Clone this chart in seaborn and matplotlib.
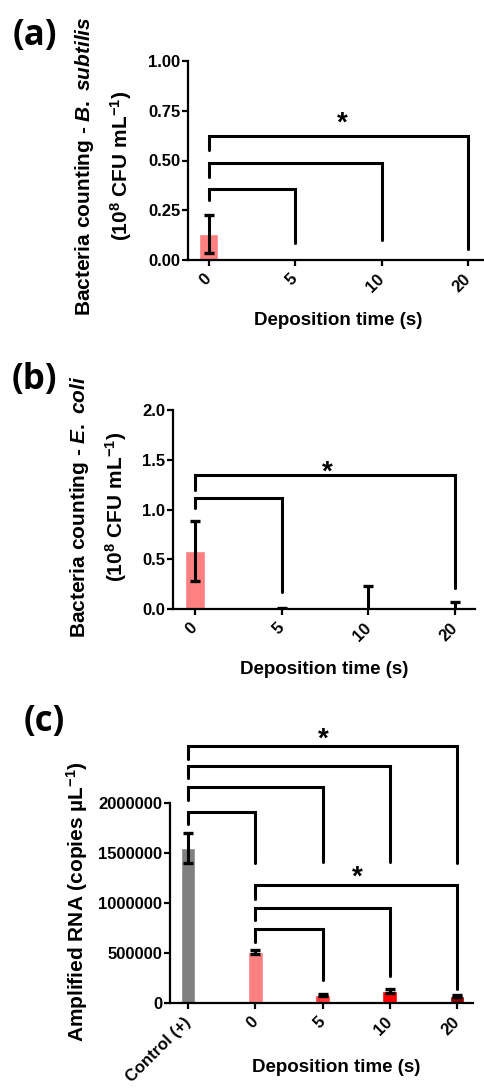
import numpy as np
import seaborn as sns
import matplotlib.pyplot as plt

# ---- data ----
times = ["0", "5", "10", "20"]

bsub_mean = [0.13, 0.0, 0.0, 0.0]
bsub_sd = [0.097, 0.0, 0.0, 0.0]

ecoli_mean = [0.58, 0.0, 0.0, 0.0]
ecoli_sd = [0.30, 0.01, 0.23, 0.07]

rna_groups = ["Control (+)", "0", "5", "10", "20"]
rna_mean = [1550000, 510000, 78000, 118000, 75000]
rna_sd = [150000, 18000, 12000, 20000, 10000]

# brackets: (from, to, height, left end, right end)
bsub_brackets = [(0, 1, 0.357, 0.30, 0.085),
                 (0, 2, 0.487, 0.417, 0.10),
                 (0, 3, 0.623, 0.553, 0.055)]
ecoli_brackets = [(0, 1, 1.115, 1.015, 0.17),
                  (0, 3, 1.35, 1.20, 0.21)]
rna_brackets = [(0, 1, 1.91e6, 1.79e6, 1.40e6),
                (0, 2, 2.16e6, 2.03e6, 1.41e6),
                (0, 3, 2.37e6, 2.25e6, 1.41e6),
                (0, 4, 2.57e6, 2.44e6, 1.40e6),
                (1, 2, 0.74e6, 0.61e6, 0.23e6),
                (1, 3, 0.95e6, 0.83e6, 0.27e6),
                (1, 4, 1.18e6, 1.04e6, 0.14e6)]

pink = "#ff8080"
rna_colors = ["#808080", pink, "#ff3b3b", "#ff0000", "#8b0000"]

sns.set_style("ticks")
plt.rcParams["font.family"] = ["Liberation Sans", "DejaVu Sans"]
plt.rcParams["font.weight"] = "bold"
plt.rcParams["axes.labelweight"] = "bold"
plt.rcParams["text.color"] = "black"
plt.rcParams["axes.labelcolor"] = "black"
plt.rcParams["mathtext.fontset"] = "custom"
plt.rcParams["mathtext.rm"] = "Liberation Sans:bold"
plt.rcParams["mathtext.bf"] = "Liberation Sans:bold"
plt.rcParams["mathtext.it"] = "Liberation Sans:italic:bold"
plt.rcParams["mathtext.default"] = "rm"

W, H = 485, 1090
fig = plt.figure(figsize=(W / 100, H / 100), dpi=100)


def px_axes(left, right, top, bottom):
    return fig.add_axes([left / W, 1 - bottom / H, (right - left) / W, (bottom - top) / H])


def style(ax):
    sns.despine(ax=ax)
    for s in ["left", "bottom"]:
        ax.spines[s].set_linewidth(1.6)
        ax.spines[s].set_color("black")
    ax.tick_params(direction="out", width=1.6, length=4, labelsize=12, colors="black")
    ax.set_xticks(ax.get_xticks())
    ax.set_xticklabels(ax.get_xticklabels(), rotation=45, ha="right",
                       va="center", rotation_mode="anchor")
    ax.tick_params(axis="x", pad=8)
    ax.tick_params(axis="y", pad=1.5)


def draw_brackets(ax, brackets):
    for a, b, y, ya, yb in brackets:
        ax.plot([a, a, b, b], [ya, y, y, yb], color="black", lw=2.2,
                solid_joinstyle="miter", clip_on=False)


def draw_err(ax, mean, sd):
    idx = [i for i in range(len(mean)) if sd[i] > 0]
    ax.errorbar(idx, [mean[i] for i in idx], yerr=[sd[i] for i in idx], fmt="none",
                ecolor="black", elinewidth=2.2, capsize=3.5, capthick=2.4)


def star(ax, x, y):
    ax.text(x, y, "*", ha="center", va="center", fontsize=20, fontweight="bold")


# ---- (a) B. subtilis ----
ax = px_axes(188, 485, 61, 260)
sns.barplot(x=times, y=bsub_mean, order=times, color=pink, saturation=1,
            width=0.22, errorbar=None, ax=ax)
draw_err(ax, bsub_mean, bsub_sd)
draw_brackets(ax, bsub_brackets)
star(ax, 1.54, 0.685)
ax.set_xlim(-0.243, 3.197)
ax.set_ylim(0, 1.0)
ax.set_yticks([0, 0.25, 0.5, 0.75, 1.0])
ax.set_yticklabels(["0.00", "0.25", "0.50", "0.75", "1.00"])
style(ax)
ax.set_xlabel("Deposition time (s)", fontsize=13.5)
ax.xaxis.set_label_coords(0.505, -0.26)
ax.set_ylabel("Bacteria counting - $\\it{B.}$ $\\it{subtilis}$\n(10$^{8}$ CFU mL$^{-1}$)",
              fontsize=15, linespacing=1.6)
ax.yaxis.set_label_coords(-0.182, 0.472)

# ---- (b) E. coli ----
ax = px_axes(173, 475, 410, 609)
sns.barplot(x=times, y=ecoli_mean, order=times, color=pink, saturation=1,
            width=0.22, errorbar=None, ax=ax)
draw_err(ax, ecoli_mean, ecoli_sd)
draw_brackets(ax, ecoli_brackets)
star(ax, 1.53, 1.37)
ax.set_xlim(-0.254, 3.23)
ax.set_ylim(0, 2.0)
ax.set_yticks([0, 0.5, 1.0, 1.5, 2.0])
ax.set_yticklabels(["0.0", "0.5", "1.0", "1.5", "2.0"])
style(ax)
ax.set_xlabel("Deposition time (s)", fontsize=13.5)
ax.xaxis.set_label_coords(0.5, -0.26)
ax.set_ylabel("Bacteria counting - $\\it{E.}$ $\\it{coli}$\n(10$^{8}$ CFU mL$^{-1}$)",
              fontsize=15, linespacing=1.6)
ax.yaxis.set_label_coords(-0.145, 0.513)

# ---- (c) amplified RNA ----
ax = px_axes(170, 473, 723, 1003)
sns.barplot(x=rna_groups, y=rna_mean, order=rna_groups, hue=rna_groups,
            palette=rna_colors, saturation=1, width=0.22, errorbar=None,
            legend=False, ax=ax)
draw_err(ax, rna_mean, rna_sd)
draw_brackets(ax, rna_brackets)
star(ax, 2.01, 2.63e6)
star(ax, 2.51, 1.25e6)
ax.set_xlim(-0.268, 4.238)
ax.set_ylim(0, 2.8e6)
ax.set_yticks([0, 500000, 1000000, 1500000, 2000000])
ax.set_yticklabels(["0", "500000", "1000000", "1500000", "2000000"])
style(ax)
ax.spines["left"].set_bounds(0, 2e6)
ax.set_xlabel("Deposition time (s)", fontsize=13.5)
ax.xaxis.set_label_coords(0.55, -0.2)
ax.set_ylabel("Amplified RNA (copies µL$^{-1}$)", fontsize=15)
ax.yaxis.set_label_coords(-0.265, 0.364)

# panel letters
for lab, x, y in [("(a)", 35, 36), ("(b)", 34, 380), ("(c)", 44, 722)]:
    fig.text(x / W, 1 - y / H, lab, ha="center", va="center", fontsize=25,
             fontweight="bold", color="black", family=["Open Sans", "DejaVu Sans"])

fig.savefig("out.png", dpi=100)
